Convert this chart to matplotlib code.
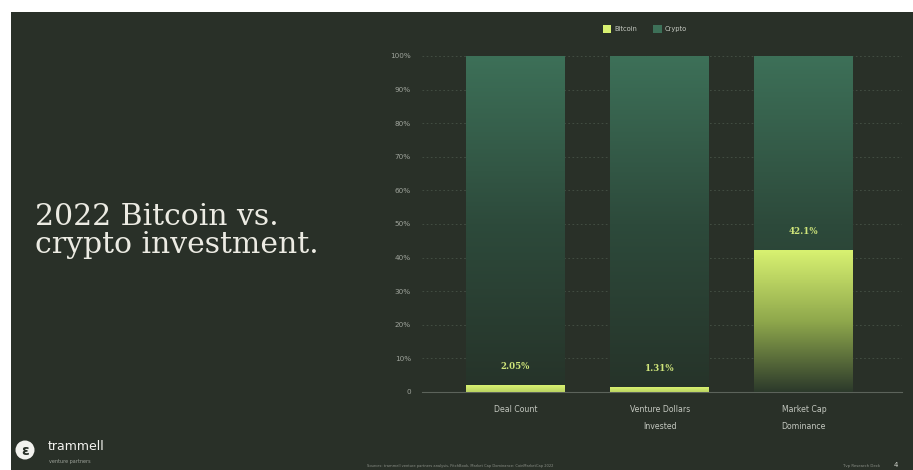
import numpy as np
import matplotlib
matplotlib.use("Agg")
import matplotlib.pyplot as plt
from matplotlib.colors import LinearSegmentedColormap
from matplotlib.patches import Rectangle, Circle

# chart data
categories = ["Deal Count", "Venture Dollars\nInvested", "Market Cap\nDominance"]
bitcoin = [2.05, 1.31, 42.1]
crypto = [100 - v for v in bitcoin]
value_labels = ["2.05%", "1.31%", "42.1%"]
y_ticks = [0, 10, 20, 30, 40, 50, 60, 70, 80, 90, 100]
y_tick_labels = ["0"] + [f"{t}%" for t in y_ticks[1:]]

BG = "#293028"
GRID = "#465246"
TICK = "#9ea39b"
LABEL = "#c4c8c0"
BTC_TOP = "#d8f171"
CRYPTO_TOP = "#3d7058"

crypto_cmap = LinearSegmentedColormap.from_list("crypto", ["#263329", "#2d4a3b", CRYPTO_TOP])
btc_cmap = LinearSegmentedColormap.from_list("btc", ["#2c3a2b", "#8fa84c", BTC_TOP])

fig = plt.figure(figsize=(9.13, 4.70), dpi=100, facecolor="white")
# dark slide area (white margin on top/left like the screenshot)
fig.patches.append(Rectangle((11 / 913, 0), 1, 1 - 12 / 470, transform=fig.transFigure,
                             facecolor=BG, edgecolor="none", zorder=-10))

ax = fig.add_axes([422 / 913, (470 - 392) / 470, 480 / 913, 336 / 470])
ax.set_facecolor("none")
x = np.arange(len(categories))
width = 0.686

btc_bars = ax.bar(x, bitcoin, width, color="none", label="Bitcoin")
cry_bars = ax.bar(x, crypto, width, bottom=bitcoin, color="none", label="Crypto")

# gradient fills clipped to the bar geometry
for p in cry_bars:
    x0, y0, w, h = p.get_x(), p.get_y(), p.get_width(), p.get_height()
    ys = np.linspace(y0, y0 + h, 200)[:, None] / 100.0
    ax.imshow(ys, cmap=crypto_cmap, vmin=0, vmax=1, origin="lower", aspect="auto",
              extent=(x0, x0 + w, y0, y0 + h), zorder=2, interpolation="bilinear")
for p in btc_bars:
    x0, y0, w, h = p.get_x(), p.get_y(), p.get_width(), p.get_height()
    if h > 10:
        ys = np.linspace(0, 1, 200)[:, None]
    else:
        ys = np.linspace(0.8, 1, 20)[:, None]
    ax.imshow(ys, cmap=btc_cmap, vmin=0, vmax=1, origin="lower", aspect="auto",
              extent=(x0, x0 + w, y0, y0 + h), zorder=3, interpolation="bilinear")

for xi, b, lab in zip(x, bitcoin, value_labels):
    ax.annotate(lab, (xi, b), xytext=(0, 13.5), textcoords="offset points",
                ha="center", va="center", fontsize=6.2, fontweight="bold",
                color="#cfe57a", family="DejaVu Serif", zorder=5)

ax.set_xlim(-0.648, 2.68)
ax.set_ylim(0, 100)
ax.set_yticks(y_ticks)
ax.set_yticklabels(y_tick_labels)
ax.set_xticks(x)
ax.set_xticklabels(categories, linespacing=2.2)
ax.tick_params(axis="y", length=0, pad=8, labelsize=5.2, labelcolor=TICK)
ax.tick_params(axis="x", length=0, pad=9, labelsize=5.6, labelcolor=LABEL)
ax.grid(axis="y", color=GRID, linestyle=(0, (2, 3)), linewidth=0.6, zorder=0)
ax.set_axisbelow(True)
for s in ["top", "right", "left"]:
    ax.spines[s].set_visible(False)
ax.spines["bottom"].set_color("#5c635b")
ax.spines["bottom"].set_linewidth(0.8)

# legend
handles = [Rectangle((0, 0), 1, 1, facecolor=BTC_TOP), Rectangle((0, 0), 1, 1, facecolor=CRYPTO_TOP)]
fig.legend(handles, ["Bitcoin", "Crypto"], loc="center", bbox_to_anchor=(645 / 913, 1 - 29 / 470),
           ncol=2, frameon=False, fontsize=4.8, labelcolor="#c8ccc4", handlelength=1.3,
           handleheight=1.3, columnspacing=2.3, handletextpad=0.5)

# slide title
fig.text(35 / 913, 1 - 231 / 470, "2022 Bitcoin vs.\ncrypto investment.", ha="left", va="center",
         fontsize=21.5, family="DejaVu Serif", color="#ecebe3", linespacing=0.98)

# footer
fig.patches.append(Circle((0.25, 0.20), 0.095, transform=fig.dpi_scale_trans,
                          facecolor="#f2f2ee", edgecolor="none"))
fig.text(25 / 913, 1 - 451 / 470, "ε", ha="center", va="center", fontsize=10,
         fontweight="bold", color=BG)
fig.text(48 / 913, 1 - 447 / 470, "trammell", ha="left", va="center", fontsize=9,
         color="#f2f2ee", family="DejaVu Sans")
fig.text(49 / 913, 1 - 461 / 470, "venture partners", ha="left", va="center", fontsize=3.5,
         color="#9ea39b")
fig.text(460 / 913, 1 - 466 / 470,
         "Sources: trammell venture partners analysis, PitchBook, Market Cap Dominance: CoinMarketCap 2022",
         ha="center", va="center", fontsize=2.6, color="#8a8f87")
fig.text(880 / 913, 1 - 466 / 470, "Tvp Research Deck", ha="right", va="center",
         fontsize=2.8, color="#8a8f87")
fig.text(896 / 913, 1 - 465 / 470, "4", ha="center", va="center", fontsize=5,
         color="#d0d3cc")

fig.savefig("out.png", dpi=100, facecolor="white")
